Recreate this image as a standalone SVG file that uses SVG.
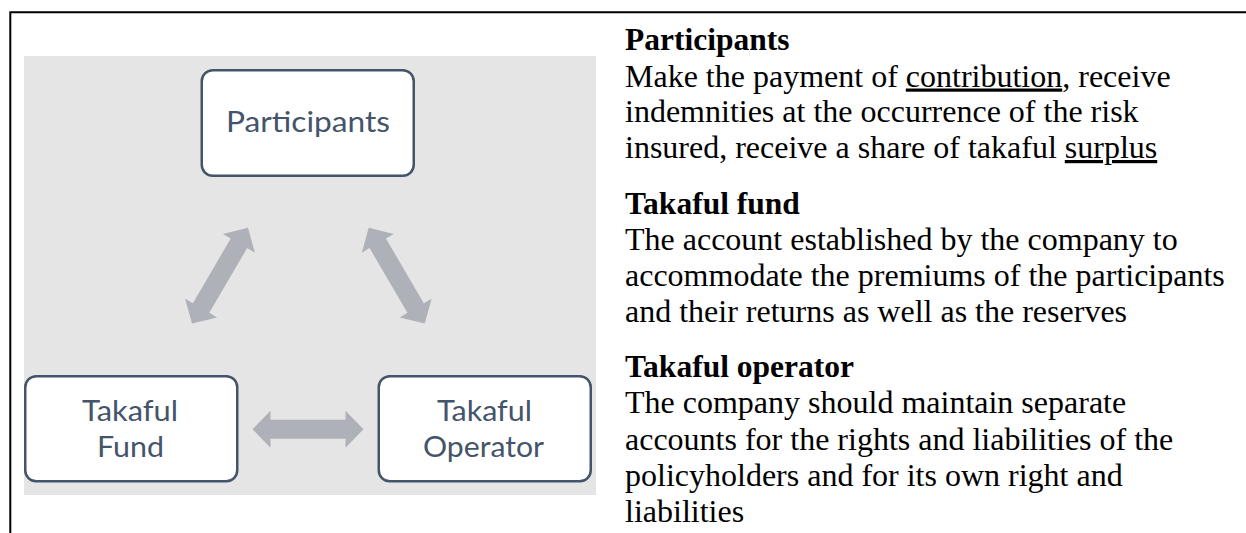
<svg xmlns="http://www.w3.org/2000/svg" width="1246" height="533" viewBox="0 0 1246 533">
  <style>
    .panel { fill: #e5e5e5; }
    .box { fill: #ffffff; stroke: #44546a; stroke-width: 2.5; }
    .lbl { font-family: Lato, "Open Sans", sans-serif; font-size: 29.5px; fill: #44546a; text-anchor: middle; }
    .arrow { fill: #aeb1b7; }
    .head { font-family: "Liberation Serif", "Times New Roman", serif; font-size: 31.5px; font-weight: bold; fill: #000000; }
    .body { font-family: "Liberation Serif", "Times New Roman", serif; font-size: 32px; fill: #000000; }
    .ul { text-decoration: underline; }
    .frame { fill: none; stroke: #000000; stroke-width: 2; }
  </style>
  <defs>
    <path id="dbl" d="M-55.5,0 L-37.5,-18.5 L-37.5,-9.5 L37.5,-9.5 L37.5,-18.5 L55.5,0 L37.5,18.5 L37.5,9.5 L-37.5,9.5 L-37.5,18.5 Z"/>
  </defs>
  <rect width="1246" height="533" fill="#ffffff"/>
  <path class="frame" d="M10.3,533 V12.3 H1246"/>
  <rect class="panel" x="24" y="56" width="572" height="439"/>

  <g id="connectors">
    <use href="#dbl" class="arrow" transform="translate(220,275.7) rotate(-59.7)"/>
    <use href="#dbl" class="arrow" transform="translate(396.7,275.7) rotate(59.7)"/>
    <use href="#dbl" class="arrow" transform="translate(308,429.3)"/>
  </g>

  <g id="node-participants">
    <rect class="box" x="201.75" y="70.25" width="212" height="105.5" rx="11"/>
    <text class="lbl" x="308" y="132" textLength="164" lengthAdjust="spacingAndGlyphs">Participants</text>
  </g>
  <g id="node-takaful-fund">
    <rect class="box" x="25.25" y="376.25" width="212" height="105" rx="11"/>
    <text class="lbl" x="130" y="421" textLength="96" lengthAdjust="spacingAndGlyphs">Takaful</text>
    <text class="lbl" x="130.5" y="456.5" textLength="67" lengthAdjust="spacingAndGlyphs">Fund</text>
  </g>
  <g id="node-takaful-operator">
    <rect class="box" x="378.75" y="376.25" width="212" height="105" rx="11"/>
    <text class="lbl" x="484.5" y="421" textLength="95" lengthAdjust="spacingAndGlyphs">Takaful</text>
    <text class="lbl" x="483.5" y="456.5" textLength="121" lengthAdjust="spacingAndGlyphs">Operator</text>
  </g>

  <g id="descriptions">
    <text class="head" x="625" y="50">Participants</text>
    <text class="body" x="625" y="86.5">Make the payment of <tspan class="ul">contribution</tspan>, receive</text>
    <text class="body" x="625" y="122.3">indemnities at the occurrence of the risk</text>
    <text class="body" x="625" y="158">insured, receive a share of takaful <tspan class="ul">surplus</tspan></text>

    <text class="head" x="625" y="214">Takaful fund</text>
    <text class="body" x="625" y="250">The account established by the company to</text>
    <text class="body" x="625" y="286">accommodate the premiums of the participants</text>
    <text class="body" x="625" y="322">and their returns as well as the reserves</text>

    <text class="head" x="625" y="377">Takaful operator</text>
    <text class="body" x="625" y="413.3">The company should maintain separate</text>
    <text class="body" x="625" y="449.5">accounts for the rights and liabilities of the</text>
    <text class="body" x="625" y="485.5">policyholders and for its own right and</text>
    <text class="body" x="625" y="521.5">liabilities</text>
  </g>
</svg>
